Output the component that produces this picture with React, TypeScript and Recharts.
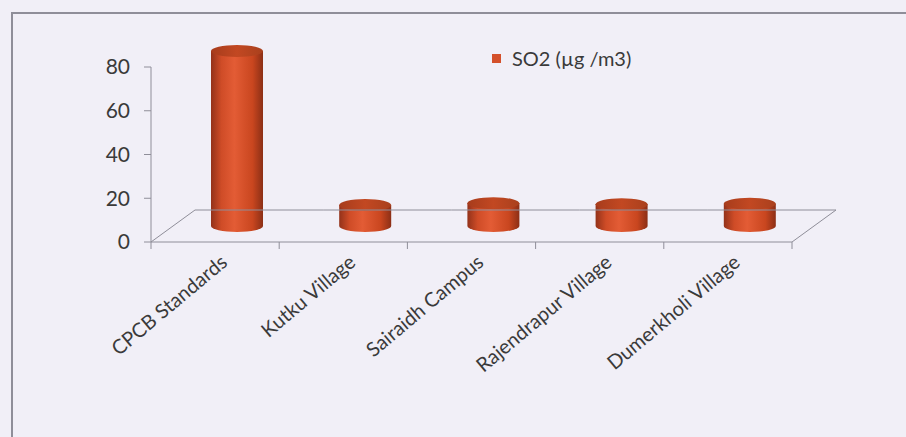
import React from 'react';
import { BarChart, Bar, XAxis, YAxis } from 'recharts';

const sites = ['CPCB Standards', 'Kutku Village', 'Sairaidh Campus', 'Rajendrapur Village', 'Dumerkholi Village'];
const so2Values = [80, 9.6, 10.4, 9.9, 10.2];
const yTicks = [0, 20, 40, 60, 80];
const seriesName = 'SO2 (µg /m3)';

const data = sites.map((site, i) => ({ site, so2: so2Values[i] }));

// depth of the fake 3D floor
const DEPTH_X = 44;
const DEPTH_Y = 32;
const LINE = '#8f8e99';
const FONT = 'Lato, "Noto Sans", sans-serif';

const Cylinder = (props: any) => {
  const { x, y, width, height } = props;
  const left = x + DEPTH_X / 2;
  const top = y - DEPTH_Y / 2;
  const bottom = y + height - DEPTH_Y / 2;
  const rx = width / 2;
  const ry = 6;
  const body = `M${left},${top} L${left},${bottom} A${rx},${ry} 0 0 0 ${left + width},${bottom} L${left + width},${top} Z`;
  return (
    <g>
      <path d={body} fill="url(#cylBody)" />
      <ellipse cx={left + rx} cy={top} rx={rx} ry={ry} fill="url(#cylTop)" />
    </g>
  );
};

const SiteTick = (props: any) => {
  const { y, payload, index, width, visibleTicksCount } = props;
  const band = width && visibleTicksCount ? width / visibleTicksCount : 128;
  const left = payload.coordinate - band / 2;
  const right = left + band;
  const last = index === visibleTicksCount - 1;
  const tx = payload.coordinate + 9;
  const ty = y + 17;
  return (
    <g>
      <line x1={left + DEPTH_X} y1={y - DEPTH_Y} x2={right + DEPTH_X} y2={y - DEPTH_Y} stroke={LINE} />
      {index === 0 && <line x1={left} y1={y} x2={left + DEPTH_X} y2={y - DEPTH_Y} stroke={LINE} />}
      {last && <line x1={right} y1={y} x2={right + DEPTH_X} y2={y - DEPTH_Y} stroke={LINE} />}
      <line x1={left} y1={y} x2={left} y2={y + 7} stroke={LINE} />
      {last && <line x1={right} y1={y} x2={right} y2={y + 7} stroke={LINE} />}
      <text
        x={tx}
        y={ty}
        textAnchor="end"
        dy="0.35em"
        transform={`rotate(-40, ${tx}, ${ty})`}
        fontFamily={FONT}
        fontSize={20}
        fill="#3a3a3a"
      >
        {payload.value}
      </text>
    </g>
  );
};

export default function App() {
  return (
    <div style={{ position: 'absolute', left: 0, top: 0, width: 906, height: 437, background: '#f1eff7', overflow: 'hidden' }}>
      <div
        style={{
          position: 'absolute', left: 11, top: 12, right: -10, bottom: -10,
          borderTop: `2px solid ${LINE}`, borderLeft: `2px solid ${LINE}`,
        }}
      />
      {/* legend sits inside the plot area, so it is drawn as an overlay */}
      <div
        style={{
          position: 'absolute', left: 492, top: 46, display: 'flex', alignItems: 'center',
          fontFamily: FONT, fontSize: 20, color: '#3a3a3a', zIndex: 1,
        }}
      >
        <span style={{ width: 9, height: 9, background: '#d4502b', marginRight: 11, display: 'inline-block' }} />
        <span>{seriesName}</span>
      </div>
      <BarChart width={906} height={437} data={data} margin={{ top: 67, right: 114, left: 0, bottom: 0 }}>
        <defs>
          <linearGradient id="cylBody" x1="0" y1="0" x2="1" y2="0">
            <stop offset="0%" stopColor="#93321a" />
            <stop offset="20%" stopColor="#cf4c27" />
            <stop offset="45%" stopColor="#e35c35" />
            <stop offset="80%" stopColor="#c9461f" />
            <stop offset="100%" stopColor="#8c2f16" />
          </linearGradient>
          <linearGradient id="cylTop" x1="0" y1="0" x2="1" y2="0">
            <stop offset="0%" stopColor="#a73c1c" />
            <stop offset="50%" stopColor="#c24822" />
            <stop offset="100%" stopColor="#a9401d" />
          </linearGradient>
        </defs>
        <XAxis
          dataKey="site"
          height={195}
          interval={0}
          tickSize={0}
          tickMargin={0}
          axisLine={{ stroke: LINE }}
          tick={<SiteTick />}
        />
        <YAxis
          width={151}
          domain={[0, 80]}
          ticks={yTicks}
          interval={0}
          tickSize={7}
          tickMargin={14}
          axisLine={{ stroke: LINE }}
          tickLine={{ stroke: LINE }}
          tick={{ fontFamily: FONT, fontSize: 21, fill: '#3a3a3a' }}
        />
        <Bar dataKey="so2" name={seriesName} fill="#d4502b" barSize={52} shape={<Cylinder />} isAnimationActive={false} />
      </BarChart>
    </div>
  );
}
